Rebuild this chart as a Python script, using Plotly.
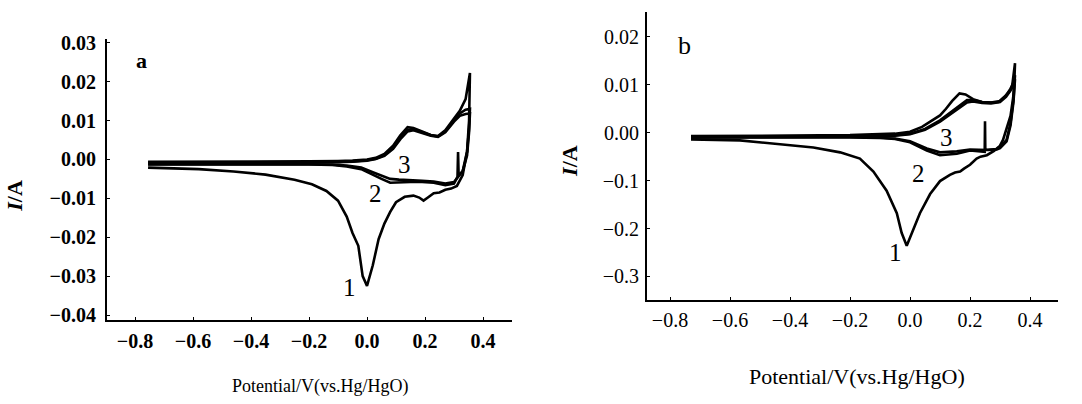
import plotly.graph_objects as go

# ---------------- Panel a data (potential V, current A) ----------------
a1_V = [-0.755, -0.6, -0.4, -0.2, -0.1, -0.05, 0.0, 0.03, 0.06, 0.09, 0.115, 0.14, 0.16, 0.19, 0.22, 0.245, 0.27, 0.3, 0.32, 0.34, 0.355,
        0.352, 0.345, 0.33, 0.31, 0.29, 0.27, 0.25, 0.23, 0.21, 0.195, 0.18, 0.16, 0.13, 0.1, 0.08, 0.06, 0.04, 0.02, 0.0,
        -0.015, -0.03, -0.05, -0.07, -0.1, -0.14, -0.19, -0.25, -0.35, -0.46, -0.58, -0.755]
a1_I = [-0.0006, -0.0006, -0.0006, -0.0005, -0.0004, -0.0003, 0.0, 0.0004, 0.0014, 0.0035, 0.0062, 0.0083, 0.0081, 0.0072, 0.0063, 0.006, 0.0075, 0.0105, 0.0125, 0.0155, 0.0222,
        0.010, 0.002, -0.004, -0.0068, -0.0075, -0.0078, -0.0085, -0.0087, -0.0098, -0.0106, -0.0098, -0.0093, -0.0096, -0.0110, -0.0135, -0.0165, -0.0205, -0.0272, -0.0325,
        -0.0300, -0.0222, -0.0189, -0.0147, -0.0106, -0.0081, -0.0064, -0.0052, -0.0039, -0.0031, -0.0025, -0.0021]

a2_V = [-0.755, -0.6, -0.4, -0.2, -0.1, -0.05, 0.0, 0.03, 0.06, 0.09, 0.115, 0.14, 0.16, 0.19, 0.22, 0.245, 0.27, 0.3, 0.32, 0.34, 0.355,
        0.352, 0.345, 0.33, 0.316, 0.314, 0.312, 0.3, 0.27, 0.23, 0.19, 0.15, 0.11, 0.08, 0.05, 0.02, -0.02, -0.07, -0.12, -0.2, -0.4, -0.6, -0.755]
a2_I = [-0.0008, -0.0008, -0.0008, -0.0007, -0.0006, -0.0005, -0.0002, 0.0002, 0.0011, 0.0030, 0.0056, 0.0076, 0.0078, 0.0070, 0.0062, 0.0059, 0.0072, 0.0100, 0.0118, 0.0128, 0.0130,
        0.008, 0.002, -0.003, -0.0042, 0.0019, -0.0045, -0.0062, -0.0066, -0.0060, -0.0058, -0.0058, -0.0060, -0.0060, -0.0050, -0.0040, -0.0025, -0.0018, -0.0014, -0.0013, -0.0013, -0.0013, -0.0013]

a3_V = [-0.755, -0.6, -0.4, -0.2, -0.1, -0.05, 0.0, 0.03, 0.06, 0.09, 0.115, 0.14, 0.16, 0.19, 0.22, 0.245, 0.27, 0.3, 0.32, 0.34, 0.355,
        0.352, 0.345, 0.33, 0.31, 0.3, 0.27, 0.23, 0.19, 0.15, 0.11, 0.08, 0.05, 0.02, -0.02, -0.07, -0.12, -0.2, -0.4, -0.6, -0.755]
a3_I = [-0.0009, -0.0009, -0.0009, -0.0008, -0.0007, -0.0006, -0.0003, 0.0001, 0.0009, 0.0027, 0.0052, 0.0072, 0.0075, 0.0068, 0.0061, 0.0058, 0.0070, 0.0097, 0.0112, 0.0117, 0.0118,
        0.007, 0.001, -0.003, -0.0050, -0.0058, -0.0062, -0.0057, -0.0055, -0.0054, -0.0052, -0.0050, -0.0042, -0.0033, -0.0021, -0.0016, -0.0013, -0.0012, -0.0012, -0.0012, -0.0012]

# ---------------- Panel b data (potential V, current in axis units) ----------------
b1_V = [-0.73, -0.6, -0.4, -0.2, -0.1, -0.05, 0.0, 0.04, 0.07, 0.1, 0.12, 0.14, 0.165, 0.185, 0.21, 0.24, 0.27, 0.295, 0.315, 0.33, 0.34, 0.35,
        0.348, 0.344, 0.335, 0.322, 0.31, 0.3, 0.28, 0.256, 0.235, 0.222, 0.2, 0.18, 0.167, 0.15, 0.133, 0.1, 0.067, 0.033, 0.006, -0.011,
        -0.028, -0.044, -0.078, -0.122, -0.167, -0.233, -0.322, -0.456, -0.567, -0.73]
b1_I = [-0.0007, -0.0007, -0.0006, -0.0005, -0.0004, -0.0002, 0.0002, 0.0012, 0.0024, 0.0036, 0.0050, 0.0066, 0.0082, 0.0080, 0.0070, 0.0064, 0.0063, 0.0064, 0.0075, 0.0085, 0.0095, 0.0145,
        0.0110, 0.0074, 0.0035, 0.0006, -0.0015, -0.0027, -0.0038, -0.0047, -0.0050, -0.0054, -0.0067, -0.0075, -0.0081, -0.0083, -0.0088, -0.0101, -0.0128, -0.0168, -0.0209, -0.0236,
        -0.0209, -0.0168, -0.0121, -0.0081, -0.0054, -0.0041, -0.0031, -0.0022, -0.0016, -0.0014]

b2_V = [-0.73, -0.5, -0.3, -0.15, -0.05, 0.0, 0.05, 0.1, 0.13, 0.16, 0.19, 0.21, 0.24, 0.27, 0.3, 0.32, 0.335, 0.345, 0.35,
        0.345, 0.335, 0.322, 0.3, 0.289, 0.26, 0.251, 0.25, 0.249, 0.2, 0.156, 0.1, 0.056, 0.0, -0.05, -0.1, -0.2, -0.4, -0.6, -0.73]
b2_I = [-0.0009, -0.0009, -0.0008, -0.0007, -0.0005, -0.0002, 0.0008, 0.0026, 0.0040, 0.0055, 0.0068, 0.0068, 0.0064, 0.0063, 0.0066, 0.0078, 0.0092, 0.0105, 0.0120,
        0.0070, 0.0020, -0.0015, -0.0030, -0.0034, -0.0036, -0.0036, 0.0024, -0.0040, -0.0037, -0.0044, -0.0047, -0.0037, -0.0020, -0.0013, -0.0011, -0.0010, -0.0010, -0.0010, -0.0010]

b3_V = [-0.73, -0.5, -0.3, -0.15, -0.05, 0.0, 0.05, 0.1, 0.13, 0.16, 0.19, 0.21, 0.24, 0.27, 0.3, 0.32, 0.335, 0.345, 0.35,
        0.345, 0.335, 0.322, 0.3, 0.289, 0.26, 0.2, 0.156, 0.1, 0.056, 0.0, -0.05, -0.1, -0.2, -0.4, -0.6, -0.73]
b3_I = [-0.0010, -0.0010, -0.0009, -0.0008, -0.0006, -0.0003, 0.0006, 0.0023, 0.0036, 0.0050, 0.0063, 0.0065, 0.0062, 0.0061, 0.0064, 0.0075, 0.0088, 0.0100, 0.0112,
        0.0065, 0.0015, -0.0018, -0.0032, -0.0035, -0.0036, -0.0035, -0.0039, -0.0041, -0.0033, -0.0018, -0.0012, -0.0010, -0.0009, -0.0009, -0.0009, -0.0009]

# ---------------- ticks ----------------
x_ticks = [-0.8, -0.6, -0.4, -0.2, 0.0, 0.2, 0.4]
x_ticktext = ["\u22120.8", "\u22120.6", "\u22120.4", "\u22120.2", "0.0", "0.2", "0.4"]
a_yticks = [-0.04, -0.03, -0.02, -0.01, 0.0, 0.01, 0.02, 0.03]
a_yticktext = ["\u22120.04", "\u22120.03", "\u22120.02", "\u22120.01", "0.00", "0.01", "0.02", "0.03"]
b_yticks = [-0.03, -0.02, -0.01, 0.0, 0.01, 0.02]
b_yticktext = ["\u22120.3", "\u22120.2", "\u22120.1", "0.00", "0.01", "0.02"]

FONT = "Liberation Serif"
line = dict(color="black", width=2.6)

fig = go.Figure()
for V, I in [(a1_V, a1_I), (a2_V, a2_I), (a3_V, a3_I)]:
    fig.add_trace(go.Scatter(x=V, y=I, mode="lines", line=line, xaxis="x", yaxis="y", showlegend=False))
for V, I in [(b1_V, b1_I), (b2_V, b2_I), (b3_V, b3_I)]:
    fig.add_trace(go.Scatter(x=V, y=I, mode="lines", line=line, xaxis="x2", yaxis="y2", showlegend=False))

W, H = 1082, 404

def xd(px):
    return px / W

def yd(py):
    return 1 - py / H

axis_common = dict(showline=True, linecolor="black", linewidth=2, ticks="inside", ticklen=3,
                   tickwidth=1, tickcolor="black", showgrid=False, zeroline=False)

fig.update_layout(
    width=W, height=H, autosize=False,
    margin=dict(l=0, r=0, t=0, b=0),
    paper_bgcolor="white", plot_bgcolor="white",
    font=dict(family=FONT, color="black"),
    xaxis=dict(domain=[xd(107), xd(512)], range=[-0.8966, 0.5], anchor="y",
               tickvals=x_ticks, ticktext=x_ticktext,
               tickfont=dict(family=FONT, size=20, color="black", weight="bold"),
               ticklabelstandoff=2, **axis_common),
    yaxis=dict(domain=[yd(323), yd(33)], range=[-0.04117, 0.03097], anchor="x",
               tickvals=a_yticks, ticktext=a_yticktext,
               tickfont=dict(family=FONT, size=20, color="black", weight="bold"),
               ticklabelstandoff=5, **axis_common),
    xaxis2=dict(domain=[xd(647), xd(1058)], range=[-0.8767, 0.4933], anchor="y2",
                tickvals=x_ticks, ticktext=x_ticktext,
                tickfont=dict(family=FONT, size=20, color="black"),
                ticklabelstandoff=1, **axis_common),
    yaxis2=dict(domain=[yd(303), yd(5)], range=[-0.03497, 0.02523], anchor="x2",
                tickvals=b_yticks, ticktext=b_yticktext,
                tickfont=dict(family=FONT, size=20, color="black"),
                ticklabelstandoff=2, **axis_common),
)

ann = []
def add(text, x, y, xref, yref, size, angle=0):
    ann.append(dict(text=text, x=x, y=y, xref=xref, yref=yref, xanchor="center", yanchor="middle",
                    textangle=angle, showarrow=False, font=dict(family=FONT, size=size, color="black")))

# axis titles
add("Potential/V(vs.Hg/HgO)", xd(320), yd(392), "paper", "paper", 18)
add("Potential/V(vs.Hg/HgO)", xd(857), yd(382), "paper", "paper", 22)
add("<b><i>I</i>/A</b>", xd(15), yd(195), "paper", "paper", 22, -90)
add("<b><i>I</i>/A</b>", xd(570), yd(159), "paper", "paper", 22, -90)
# panel letters
add("<b>a</b>", -0.776, 0.0254, "x", "y", 22)
add("b", -0.753, 0.0181, "x2", "y2", 26)
# curve labels
for txt, x, y in [("1", -0.059, -0.033), ("2", 0.028, -0.0088), ("3", 0.128, -0.0014)]:
    add(txt, x, y, "x", "y", 25)
for txt, x, y in [("1", -0.05, -0.0249), ("2", 0.027, -0.0085), ("3", 0.123, -0.001)]:
    add(txt, x, y, "x2", "y2", 25)
fig.update_layout(annotations=ann)

fig.write_html("out.html", config={"displayModeBar": False, "staticPlot": True},
               post_script="document.body.style.margin='0px';document.body.style.overflow='hidden';")
